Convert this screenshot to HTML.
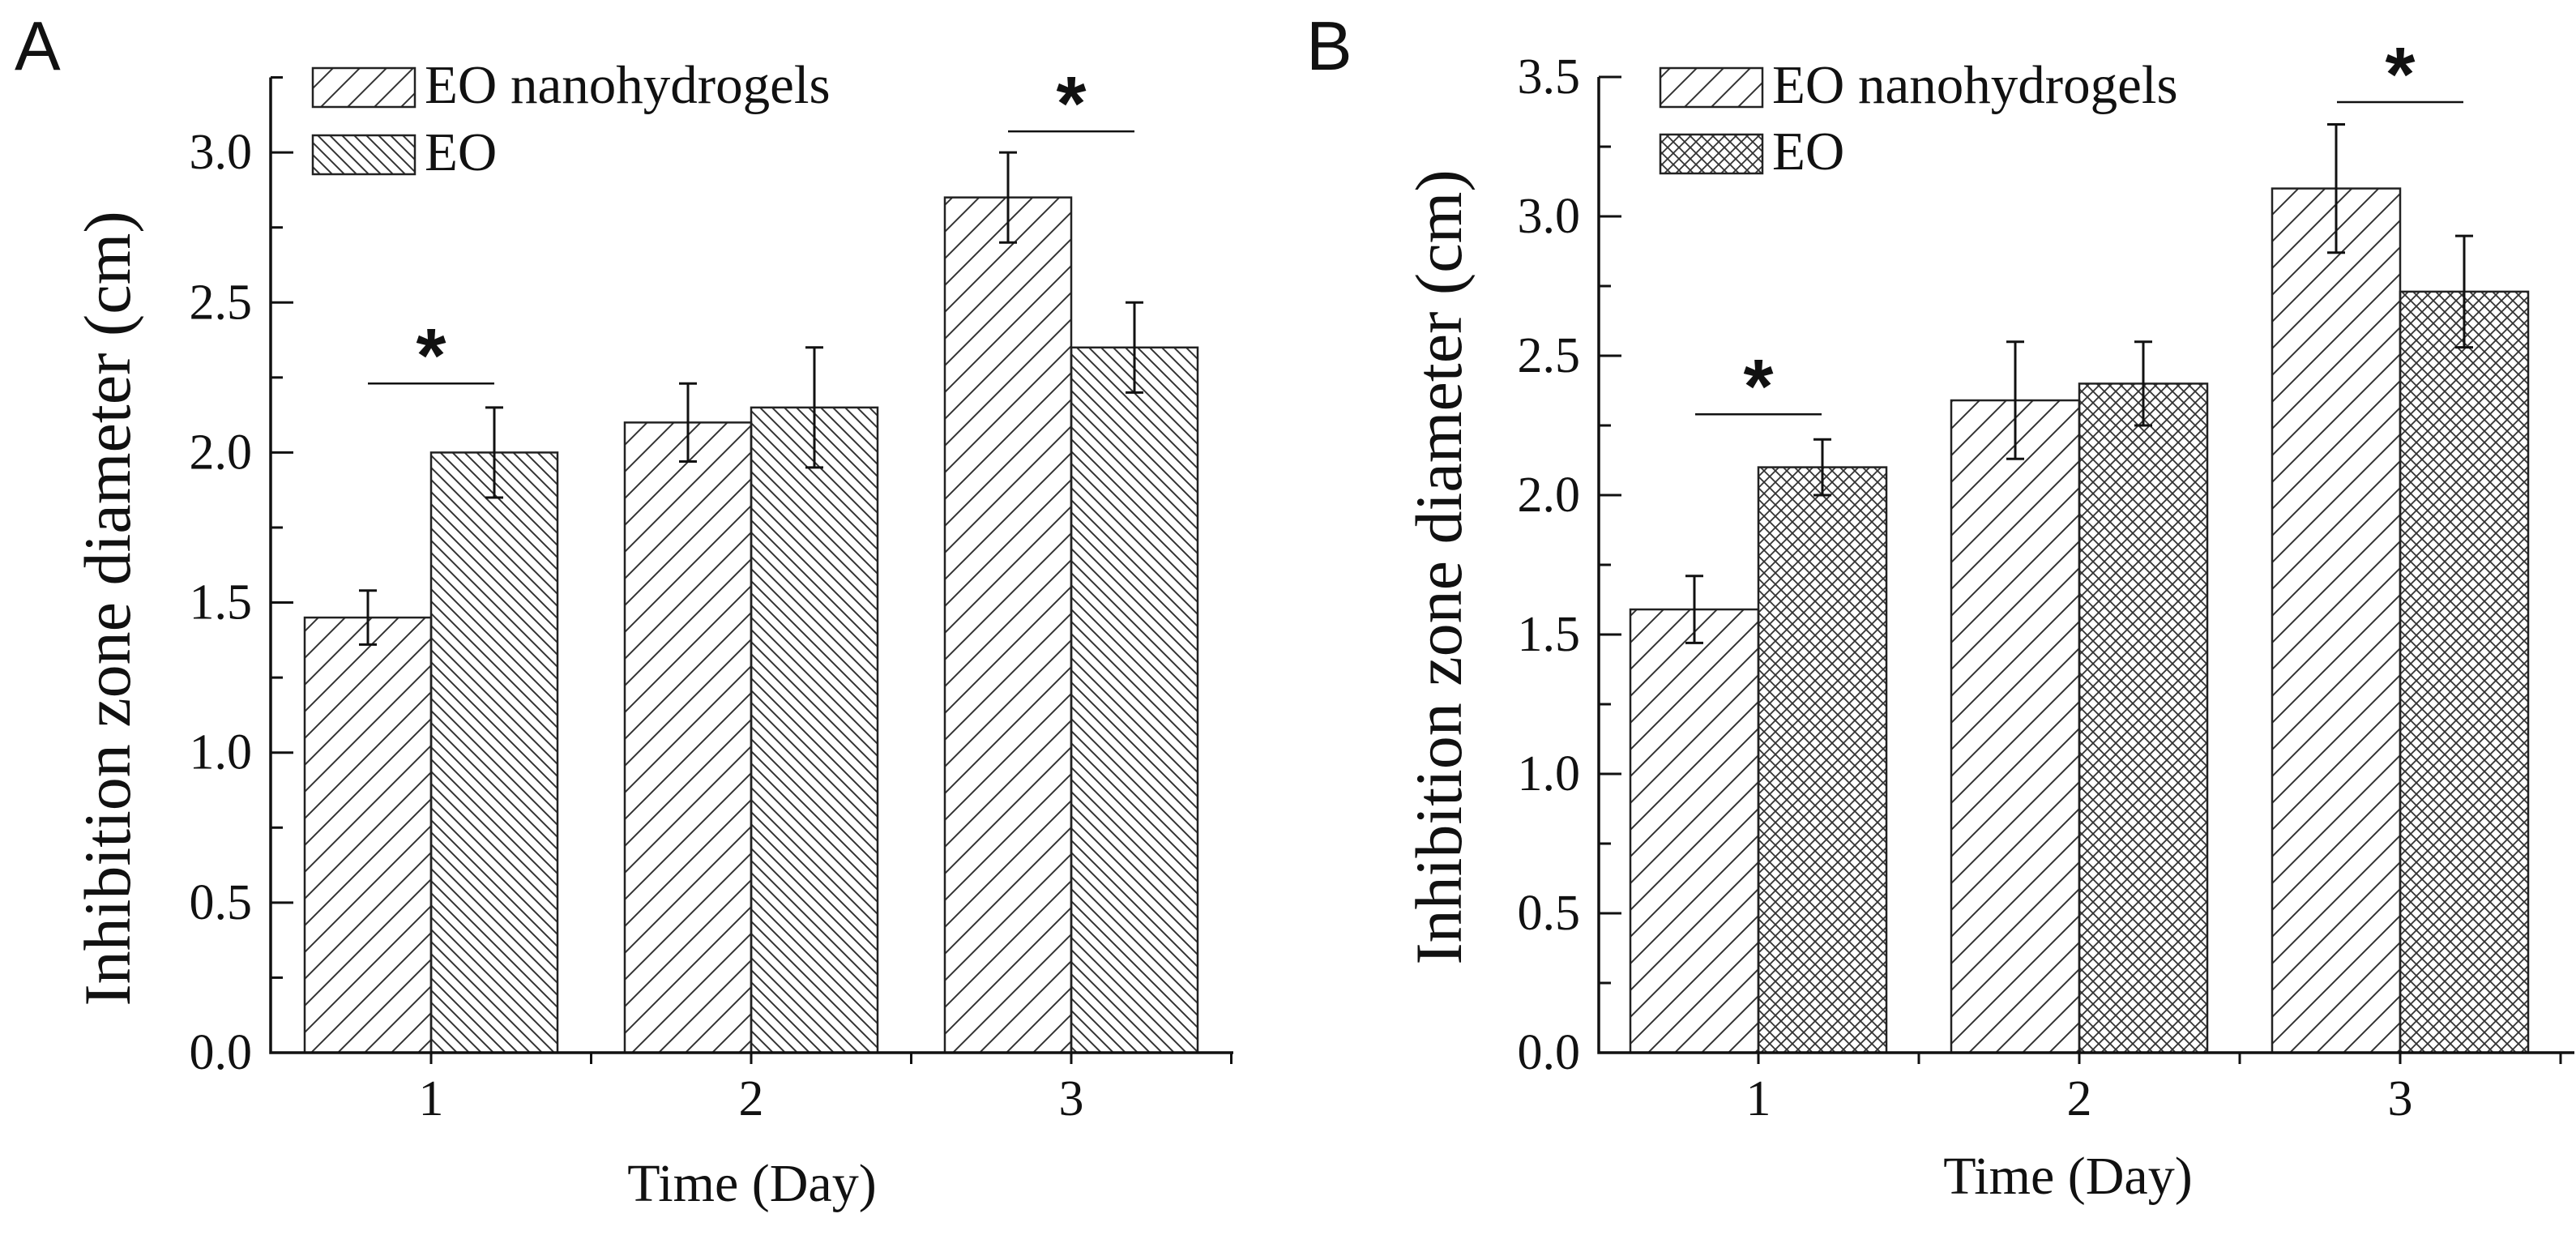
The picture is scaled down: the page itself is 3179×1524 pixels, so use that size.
<!DOCTYPE html>
<html><head><meta charset="utf-8"><style>
html,body{margin:0;padding:0;background:#fff;}
svg{display:block;}
text{font-family:"Liberation Serif",serif;fill:#111;}
</style></head><body>
<svg id="s" width="3179" height="1524" viewBox="0 0 3179 1524" xmlns="http://www.w3.org/2000/svg">
<defs>
<pattern id="pNano" patternUnits="userSpaceOnUse" width="33" height="33"><path d="M-5,38 L38,-5 M-20,20 L20,-20 M13,53 L53,13" stroke="#333" stroke-width="2"/></pattern>
<pattern id="pEOa" patternUnits="userSpaceOnUse" width="15" height="15"><path d="M-3,-3 L18,18 M-10,5 L5,20 M5,-10 L20,5" stroke="#333" stroke-width="2"/></pattern>
<pattern id="pEOb" patternUnits="userSpaceOnUse" width="14" height="14"><path d="M-3,-3 L17,17 M-10,4 L4,18 M4,-10 L18,4 M-3,17 L17,-3 M-10,10 L4,-4 M4,24 L18,10" stroke="#333" stroke-width="1.8"/></pattern>
</defs>
</svg>
<script>
const categories = ["1","2","3"];
const seriesNames = ["EO nanohydrogels","EO"];
const aNano = [1.45, 2.10, 2.85];
const aNanoErr = [0.09, 0.13, 0.15];
const aEO = [2.00, 2.15, 2.35];
const aEOErr = [0.15, 0.20, 0.15];
const bNano = [1.59, 2.34, 3.10];
const bNanoErr = [0.12, 0.21, 0.23];
const bEO = [2.10, 2.40, 2.73];
const bEOErr = [0.10, 0.15, 0.20];
const aTicks = [0.0,0.5,1.0,1.5,2.0,2.5,3.0];
const bTicks = [0.0,0.5,1.0,1.5,2.0,2.5,3.0,3.5];
const aSig = [{cat:0, y:2.23},{cat:2, y:3.07}];
const bSig = [{cat:0, y:2.29},{cat:2, y:3.41}];

const svg = document.getElementById('s');
const NS = 'http://www.w3.org/2000/svg';
function el(tag, attrs, parent){
  const e = document.createElementNS(NS, tag);
  for (const k in attrs) e.setAttribute(k, attrs[k]);
  (parent||svg).appendChild(e);
  return e;
}

function panel(cfg){
  const g = el('g', {});
  
  
  const y = v => cfg.y0 - v * cfg.perUnit;
  const x = i => cfg.c0 + i * cfg.step;
  const bw = cfg.bw;
  const yMax = cfg.yMaxVal;
  [[cfg.nano, cfg.nanoErr, 'url(#pNano)', -1, 'nano'], [cfg.eo, cfg.eoErr, cfg.eoFill, 0, 'eo']].forEach(s => {
    s[0].forEach((v, i) => {
      const bx = x(i) + s[3] * bw;
      const r = el('rect', {x: bx, y: y(v), width: bw, height: y(0) - y(v), fill: s[2], stroke: '#222', 'stroke-width': 2.5}, g);
      
      
      const cx = bx + bw / 2, e = s[1][i];
      const eb = el('path', {d: `M${cx},${y(v+e)} V${y(v-e)} M${cx-11},${y(v+e)} H${cx+11} M${cx-11},${y(v-e)} H${cx+11}`, stroke: '#111', 'stroke-width': 3, fill: 'none'}, g);
      
      
    });
  });
  const ax = el('path', {d: `M${cfg.ax},${y(yMax)} V${y(0)} H${cfg.axR}`, stroke: '#111', 'stroke-width': 3.5, fill: 'none'}, g);
  
  
  for (let v = 0; v <= yMax + 1e-6; v += 0.25) {
    const major = Math.abs(v * 2 - Math.round(v * 2)) < 1e-6;
    el('line', {x1: cfg.ax, x2: cfg.ax + (major ? 28 : 15), y1: y(v), y2: y(v), stroke: '#111', 'stroke-width': 3}, g);
  }
  cfg.ticks.forEach(t => {
    const tl = el('text', {x: cfg.ax - 23, y: y(t) + 20, 'text-anchor': 'end', 'font-size': 62}, g);
    tl.textContent = t.toFixed(1);
    
    
  });
  categories.forEach((c, i) => {
    el('line', {x1: x(i), x2: x(i), y1: y(0), y2: y(0) + 14, stroke: '#111', 'stroke-width': 3}, g);
    el('line', {x1: x(i) + cfg.step / 2, x2: x(i) + cfg.step / 2, y1: y(0), y2: y(0) + 14, stroke: '#111', 'stroke-width': 3}, g);
    const tl = el('text', {x: x(i), y: y(0) + 77, 'text-anchor': 'middle', 'font-size': 62}, g);
    tl.textContent = c;
    
    
  });
  cfg.sig.forEach(s => {
    const cx = x(s.cat);
    el('line', {x1: cx - 78, x2: cx + 78, y1: y(s.y), y2: y(s.y), stroke: '#111', 'stroke-width': 2.5}, g);
    const st = el('text', {x: cx, y: y(s.y) - 2, 'text-anchor': 'middle', 'font-size': 95, 'font-weight': 'bold', style: 'font-family:"Liberation Sans",sans-serif'}, g);
    st.textContent = '*';
    
    
  });
  const yt = el('text', {x: 0, y: 0, 'text-anchor': 'middle', 'font-size': 82, transform: `translate(${cfg.ytX},${cfg.ytC}) rotate(-90)`}, g);
  yt.textContent = 'Inhibition zone diameter (cm)';
  
  
  const xt = el('text', {x: cfg.xtX, y: cfg.xtY, 'text-anchor': 'middle', 'font-size': 66}, g);
  xt.textContent = 'Time (Day)';
  
  
  [['url(#pNano)', cfg.legY[0], seriesNames[0]], [cfg.eoFill, cfg.legY[1], seriesNames[1]]].forEach((l, k) => {
    const r = el('rect', {x: cfg.legX, y: l[1], width: 126, height: 48, fill: l[0], stroke: '#222', 'stroke-width': 2.5}, g);
    
    
    const t = el('text', {x: cfg.legX + 138, y: l[1] + 43, 'font-size': 67}, g);
    t.textContent = l[2];
    
    
  });
  const pl = el('text', {x: cfg.plX, y: 86, 'font-size': 85, style: 'font-family:"Liberation Sans",sans-serif'}, g);
  pl.textContent = cfg.label;
  
  
}

panel({name:'panel-a', label:'A', plX:18, y0:1299, perUnit:370.3, yMaxVal:3.25, ax:334, axR:1522, c0:532, step:395, bw:156,
  nano:aNano, nanoErr:aNanoErr, eo:aEO, eoErr:aEOErr, eoFill:'url(#pEOa)', ticks:aTicks, sig:aSig,
  ytX:160, ytC:751, xtX:928, xtY:1482, legX:386, legY:[84,167]});
panel({name:'panel-b', label:'B', plX:1612, y0:1299, perUnit:344, yMaxVal:3.5, ax:1973, axR:3177, c0:2170, step:396, bw:158,
  nano:bNano, nanoErr:bNanoErr, eo:bEO, eoErr:bEOErr, eoFill:'url(#pEOb)', ticks:bTicks, sig:bSig,
  ytX:1803, ytC:700, xtX:2552, xtY:1473, legX:2049, legY:[84,166]});
</script>
</body></html>
